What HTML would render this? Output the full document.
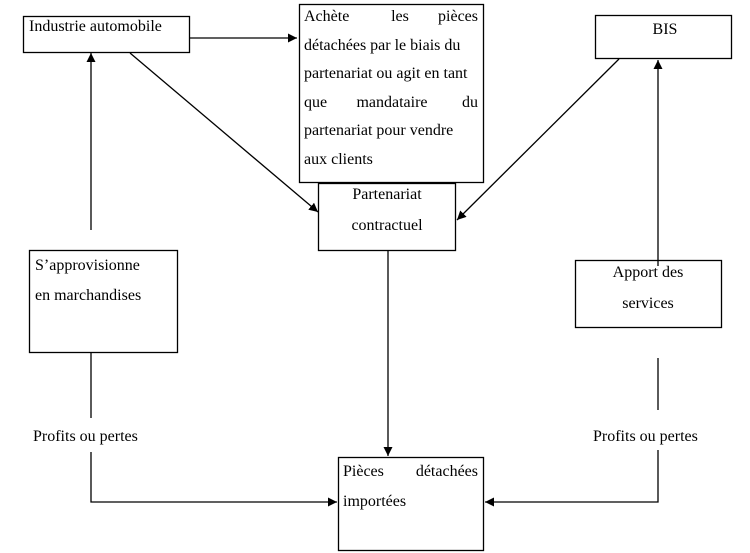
<!DOCTYPE html>
<html><head><meta charset="utf-8"><style>
html,body{margin:0;padding:0;background:#fff;}
svg{display:block;}
text{font-family:"Liberation Serif","Times New Roman","DejaVu Serif",serif;font-size:16px;fill:#000;}
</style></head><body>
<svg width="750" height="553" viewBox="0 0 750 553" xmlns="http://www.w3.org/2000/svg" font-family="Liberation Serif, Times New Roman, DejaVu Serif, serif">
<defs>
<marker id="a" viewBox="0 0 10 10" refX="10" refY="5" markerWidth="9" markerHeight="9" markerUnits="userSpaceOnUse" orient="auto">
<path d="M0,0 L10,5 L0,10 z" fill="#000"/></marker>
</defs>
<g fill="none" stroke="#000" stroke-width="1.3">
<rect x="23.5" y="16.5" width="166" height="36"/>
<rect x="299.5" y="4.5" width="184" height="178"/>
<rect x="595.5" y="15.5" width="136" height="43"/>
<rect x="318.5" y="183.5" width="137" height="67"/>
<rect x="29.5" y="250.5" width="148" height="102"/>
<rect x="575.5" y="260.5" width="146" height="67"/>
<rect x="338.5" y="457.5" width="145" height="93"/>
<line x1="190" y1="38" x2="297" y2="38" marker-end="url(#a)"/>
<line x1="130" y1="53" x2="318" y2="212" marker-end="url(#a)"/>
<line x1="619" y1="59" x2="457" y2="220" marker-end="url(#a)"/>
<line x1="91" y1="230" x2="91" y2="53" marker-end="url(#a)"/>
<line x1="658" y1="266" x2="658" y2="60" marker-end="url(#a)"/>
<line x1="388" y1="251" x2="388" y2="456" marker-end="url(#a)"/>
<polyline points="91,353 91,418"/>
<polyline points="91,452 91,502 337,502" marker-end="url(#a)"/>
<polyline points="658,358 658,410"/>
<polyline points="658,450 658,502 485,502" marker-end="url(#a)"/>
</g>
<text x="29" y="31">Industrie automobile</text>
<text x="665" y="34" text-anchor="middle">BIS</text>
<text x="304" y="21">Achète</text><text x="400" y="21" text-anchor="middle">les</text><text x="478" y="21" text-anchor="end">pièces</text>
<text x="304" y="50">détachées par le biais du</text>
<text x="304" y="78">partenariat ou agit en tant</text>
<text x="304" y="107">que</text><text x="392" y="107" text-anchor="middle">mandataire</text><text x="478" y="107" text-anchor="end">du</text>
<text x="304" y="135">partenariat pour vendre</text>
<text x="304" y="164">aux clients</text>
<text x="387" y="199" text-anchor="middle">Partenariat</text>
<text x="387" y="230" text-anchor="middle">contractuel</text>
<text x="35" y="270">S’approvisionne</text>
<text x="35" y="300">en marchandises</text>
<text x="648" y="277" text-anchor="middle">Apport des</text>
<text x="648" y="308" text-anchor="middle">services</text>
<text x="33" y="441">Profits ou pertes</text>
<text x="593" y="441">Profits ou pertes</text>
<text x="343" y="476">Pièces</text><text x="478" y="476" text-anchor="end">détachées</text>
<text x="343" y="506">importées</text>
</svg>
</body></html>
